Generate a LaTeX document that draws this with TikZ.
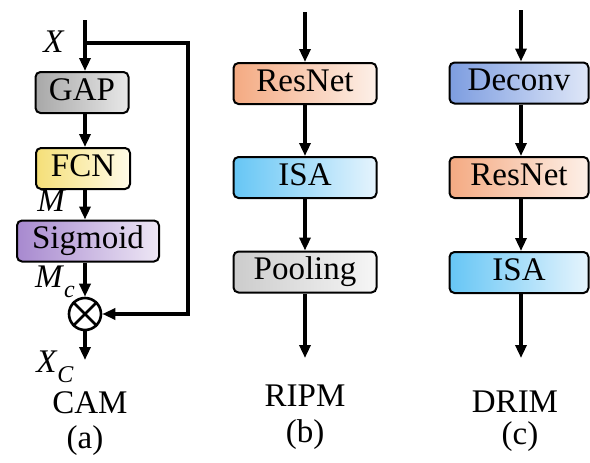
\documentclass[tikz,border=0pt]{standalone}
\usepackage{fontspec}
\setmainfont{Liberation Serif}
\usetikzlibrary{arrows.meta}
\definecolor{gapL}{HTML}{A8A8A8}\definecolor{gapR}{HTML}{E8E8E8}
\definecolor{fcnL}{HTML}{F5DF78}\definecolor{fcnR}{HTML}{FFFBE8}
\definecolor{sigL}{HTML}{A789CF}\definecolor{sigR}{HTML}{EEE7F5}
\definecolor{resL}{HTML}{F4AA82}\definecolor{resR}{HTML}{FDF0E8}
\definecolor{isaL}{HTML}{66C6F5}\definecolor{isaR}{HTML}{E6F4FD}
\definecolor{poolL}{HTML}{CCCCCC}\definecolor{poolR}{HTML}{F6F6F6}
\definecolor{decL}{HTML}{7D9DE0}\definecolor{decR}{HTML}{DFE7F8}
\tikzset{
  blk/.style={draw=black, line width=2pt, rounded corners=5pt, inner sep=0pt,
    minimum height=41pt, text height=22pt, text depth=7pt,
    font=\fontsize{33}{36}\selectfont},
  lbl/.style={inner sep=0pt, text height=22pt, text depth=5pt, font=\fontsize{33}{36}\selectfont},
  conn/.style={line width=3.2pt, -{Triangle[length=13pt,width=11pt]}},
}
\begin{document}
\begin{tikzpicture}[x=1pt,y=-1pt]
\useasboundingbox (0,0) rectangle (590,463);
% ---------------- (a) CAM
\coordinate (a0) at (85,20);
\coordinate (abr) at (85,43);
\coordinate (ar1) at (188,43);
\coordinate (ar2) at (188,314);
\node[blk, minimum width=93pt, left color=gapL, right color=gapR] (gap) at (82,92.5) {GAP};
\node[blk, minimum width=94pt, left color=fcnL, right color=fcnR] (fcn) at (83,168.5) {FCN};
\node[blk, minimum width=142pt, left color=sigL, right color=sigR] (sig) at (88,241) {Sigmoid};
\node[draw, circle, line width=2.6pt, minimum size=32pt, inner sep=0pt] (mul) at (85,314) {};
\draw[line width=2.6pt] (mul.north west) -- (mul.south east) (mul.north east) -- (mul.south west);
\coordinate (aout) at (85,360);
\draw[conn] (a0) -- (a0 |- gap.north);
\draw[conn] (a0 |- gap.south) -- (a0 |- fcn.north);
\draw[conn] (a0 |- fcn.south) -- (a0 |- sig.north);
\draw[conn] (a0 |- sig.south) -- (mul.north);
\draw[conn] (mul.south) -- (aout);
\draw[conn] (abr) -- (ar1) -- (ar2) -- (mul.east);
\node[lbl] (lx) at (54,44) {\textit{X}};
\node[lbl] (lm) at (52,203) {\textit{M}};
\node[lbl] (lmc) at (55,279) {\textit{M}\raisebox{-0.3em}{\fontsize{24}{26}\selectfont\textit{c}}};
\node[lbl] (lxc) at (55,364) {\textit{X}\raisebox{-0.3em}{\fontsize{24}{26}\selectfont\textit{C}}};
\node[lbl] (cam) at (90,405) {CAM};
\node[lbl] (capa) at (85,440) {(a)};
% ---------------- (b) RIPM
\coordinate (b0) at (305,12);
\node[blk, minimum width=143pt, left color=resL, right color=resR] (res1) at (305,83.5) {ResNet};
\node[blk, minimum width=143pt, left color=isaL, right color=isaR] (isa1) at (305,177.5) {ISA};
\node[blk, minimum width=143pt, left color=poolL, right color=poolR] (pool) at (305,272) {Pooling};
\coordinate (bout) at (305,358);
\draw[conn] (b0) -- (res1.north);
\draw[conn] (res1.south) -- (isa1.north);
\draw[conn] (isa1.south) -- (pool.north);
\draw[conn] (pool.south) -- (bout);
\node[lbl] (ripm) at (305,398) {RIPM};
\node[lbl] (capb) at (305,434) {(b)};
% ---------------- (c) DRIM
\coordinate (c0) at (521,10);
\node[blk, minimum width=139pt, left color=decL, right color=decR] (dec) at (519,83) {Deconv};
\node[blk, minimum width=139pt, left color=resL, right color=resR] (res2) at (519,177.5) {ResNet};
\node[blk, minimum width=139pt, left color=isaL, right color=isaR] (isa2) at (519,272.5) {ISA};
\coordinate (cout) at (521,358);
\draw[conn] (c0) -- (c0 |- dec.north);
\draw[conn] (c0 |- dec.south) -- (c0 |- res2.north);
\draw[conn] (c0 |- res2.south) -- (c0 |- isa2.north);
\draw[conn] (c0 |- isa2.south) -- (cout);
\node[lbl] (drim) at (515,404) {DRIM};
\node[lbl] (capc) at (520,436) {(c)};
\end{tikzpicture}
\end{document}
